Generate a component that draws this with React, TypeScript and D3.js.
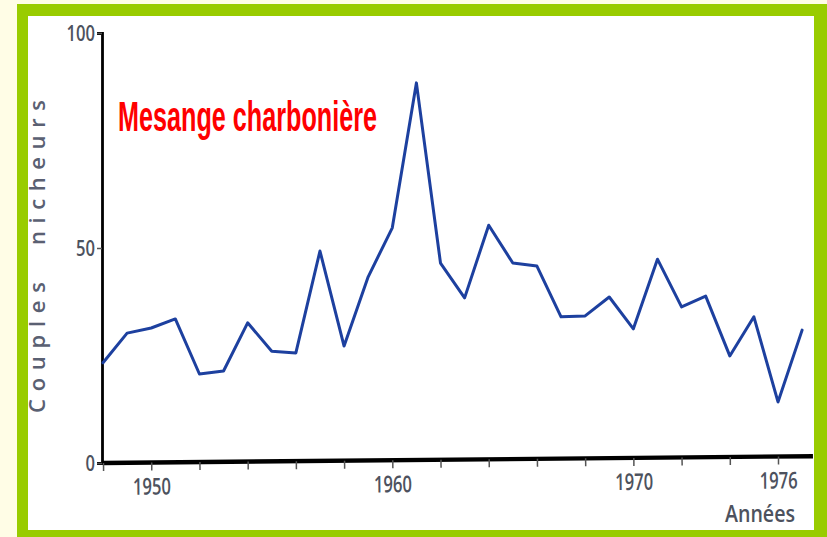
import React, { useEffect, useRef } from 'react';
import * as d3 from 'd3';

const years = [
  1948, 1949, 1950, 1951, 1952, 1953, 1954, 1955, 1956, 1957,
  1958, 1959, 1960, 1961, 1962, 1963, 1964, 1965, 1966, 1967,
  1968, 1969, 1970, 1971, 1972, 1973, 1974, 1975, 1976, 1977,
];
const couples = [
  23.3, 30.2, 31.4, 33.5, 20.7, 21.4, 32.6, 26.0, 25.6, 49.3,
  27.2, 43.3, 54.7, 88.4, 46.5, 38.4, 55.3, 46.5, 45.8, 34.0,
  34.2, 38.6, 31.2, 47.4, 36.3, 38.8, 24.9, 34.0, 14.2, 30.9,
];
const xTickYears = [1948, 1950, 1952, 1954, 1956, 1958, 1960, 1962, 1964, 1966, 1968, 1970, 1972, 1974, 1976];
const xLabelYears = [1950, 1960, 1970, 1976];
const yTicks = [0, 50, 100];
const title = 'Mesange charbonière';
const yLabelWords = ['Couples', 'nicheurs'];
const xAxisTitle = 'Années';

const W = 827;
const H = 537;
const axisFont = '"Liberation Sans Narrow", "Liberation Sans", Arial, sans-serif';
const labelFont = '"Open Sans", "DejaVu Sans", sans-serif';
const greyText = '#4d525e';

export default function App() {
  const axRef = useRef<SVGGElement | null>(null);

  const x = d3.scaleLinear().domain([1948, 1976]).range([103, 778]);
  const y = d3.scaleLinear().domain([0, 100]).range([463, 33]);

  const line = d3
    .line<number>()
    .x((_, i) => x(years[i]))
    .y((d) => y(d));

  useEffect(() => {
    if (!axRef.current) return;
    const g = d3.select(axRef.current);
    g.selectAll('*').remove();

    // Y axis
    const yg = g
      .append('g')
      .attr('transform', `translate(102,0)`)
      .call(d3.axisLeft(y).tickValues(yTicks).tickSize(5).tickPadding(2).tickFormat(d3.format('d')));
    yg.select('.domain').attr('stroke', '#000').attr('stroke-width', 2.8);
    yg.selectAll('.tick line').attr('stroke', '#555').attr('stroke-width', 1.5);
    yg.selectAll('.tick text')
      .attr('font-family', labelFont)
      .attr('font-weight', 600)
      .attr('font-size', 22)
      .attr('fill', greyText)
      .attr('dy', '0.36em')
      .attr('textLength', (d: any) => String(d).length * 9.5)
      .attr('lengthAdjust', 'spacingAndGlyphs');

    // X axis (slightly tilted, as in the scanned original)
    const xg = g
      .append('g')
      .attr('transform', `rotate(-0.55, 103, 463) translate(0,463)`)
      .call(
        d3
          .axisBottom(x)
          .tickValues(xTickYears)
          .tickSizeInner(8)
          .tickSizeOuter(0)
          .tickFormat((d: any) => (xLabelYears.includes(d as number) ? String(d) : ''))
      );
    xg.select('.domain')
      .attr('d', `M103,0H${813}`)
      .attr('stroke', '#000')
      .attr('stroke-width', 4.4);
    xg.selectAll('.tick line').attr('stroke', '#555').attr('stroke-width', 1.5);
    xg.selectAll('.tick text')
      .attr('font-family', labelFont)
      .attr('font-weight', 600)
      .attr('font-size', 23)
      .attr('fill', greyText)
      .attr('y', 32)
      .attr('dy', 0)
      .attr('textLength', (d: any) => (xLabelYears.includes(d) ? 38 : 0))
      .attr('lengthAdjust', 'spacingAndGlyphs');
  }, []);

  return (
    <svg
      width={W}
      height={H}
      viewBox={`0 0 ${W} ${H}`}
      style={{ position: 'absolute', left: 0, top: 0, display: 'block' }}
    >
      <rect x={0} y={0} width={W} height={H} fill="#fffde6" />
      <rect x={17} y={4} width={W - 17 + 5} height={H - 4 + 5} fill="#99cc00" />
      <rect x={28} y={16} width={786} height={514} fill="#ffffff" />

      <text
        x={118}
        y={131}
        fontFamily={axisFont}
        fontWeight="bold"
        fontSize={42}
        fill="#ff0000"
        textLength={259}
        lengthAdjust="spacingAndGlyphs"
      >
        {title}
      </text>

      <text
        transform="translate(45,413) rotate(-90)"
        fontFamily={labelFont}
        fontWeight={600}
        fontSize={22}
        fill="#5a6072"
        textLength={131}
        lengthAdjust="spacing"
      >
        {yLabelWords[0]}
      </text>
      <text
        transform="translate(45,245) rotate(-90)"
        fontFamily={labelFont}
        fontWeight={600}
        fontSize={22}
        fill="#5a6072"
        textLength={145}
        lengthAdjust="spacing"
      >
        {yLabelWords[1]}
      </text>

      <g ref={axRef} />

      <path
        d={line(couples) || ''}
        fill="none"
        stroke="#1d409f"
        strokeWidth={3}
        strokeLinejoin="round"
        strokeLinecap="round"
      />

      <text
        x={725}
        y={522}
        fontFamily={labelFont}
        fontWeight={600}
        fontSize={24}
        fill={greyText}
        textLength={70}
        lengthAdjust="spacingAndGlyphs"
      >
        {xAxisTitle}
      </text>
    </svg>
  );
}
